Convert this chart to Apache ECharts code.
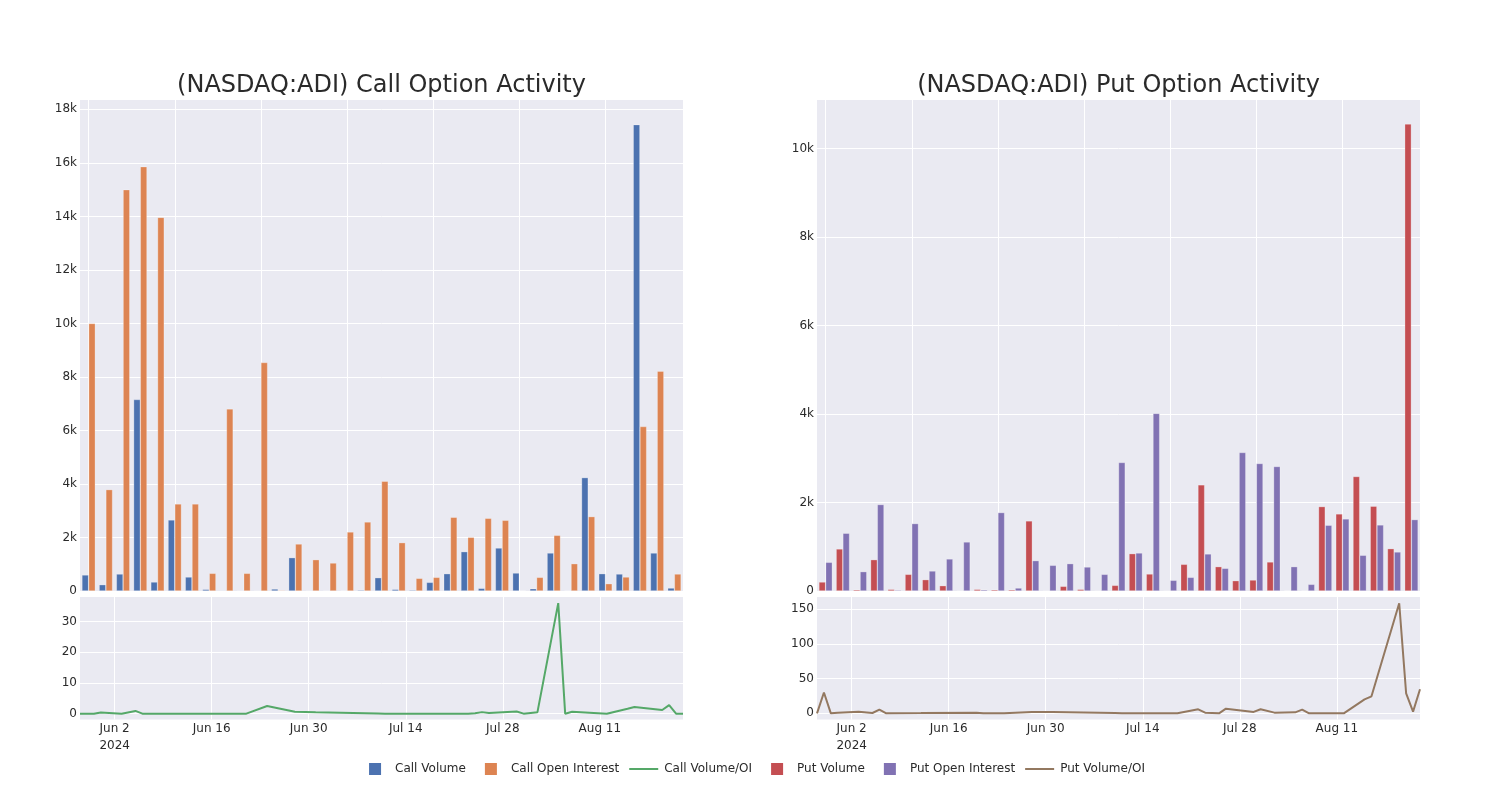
<!DOCTYPE html>
<html>
<head>
<meta charset="utf-8">
<script src="https://cdn.jsdelivr.net/npm/echarts@6/dist/echarts.min.js"></script>
<style>
html,body{margin:0;padding:0;background:#ffffff;}
#chart{width:1500px;height:800px;}
</style>
</head>
<body>
<div id="chart"></div>
<script>
// ---- data ----
const dates = ['2024-05-28','2024-05-29','2024-05-30','2024-05-31','2024-06-03','2024-06-05','2024-06-06','2024-06-07','2024-06-12','2024-06-20','2024-06-21','2024-06-24','2024-06-28','2024-07-01','2024-07-10','2024-07-11','2024-07-19','2024-07-22','2024-07-23','2024-07-24','2024-07-25','2024-07-26','2024-07-30','2024-07-31','2024-08-02','2024-08-05','2024-08-06','2024-08-07','2024-08-12','2024-08-15','2024-08-16','2024-08-20','2024-08-21','2024-08-22','2024-08-23'];
const callVolume = [600,237,636,7157,337,2656,524,62,25,0,0,75,1247,0,5,15,37,499,62,37,324,648,1471,100,1608,673,87,1421,10,4239,648,636,17431,1421,112];
const callOpenInterest = [10000,3790,15000,15860,13965,3254,3254,661,6808,661,8541,30,1758,1172,1047,2207,2581,4102,1808,474,511,2756,2007,2718,2643,19,511,2082,1022,2781,274,524,6147,8217,636];
const callVolumeOI = [0,0,0,0.4,0,0.9,0,0,0,0,0,2.5,0.6,0.45,0.05,0,0,0,0,0.1,0.5,0.2,0.7,0,0.5,36,0,0.6,0,1.6,2.2,1.2,2.8,0,0];
const putVolume = [204,951,30,709,38,377,257,121,0,38,30,30,1585,0,106,38,0,128,845,385,0,604,2400,551,234,249,657,10,8,1909,1743,2589,1917,958,10558];
const putOpenInterest = [649,1306,438,1955,23,1525,453,725,1109,30,1774,68,687,581,619,543,377,2906,860,4015,242,309,838,513,3132,2883,2815,551,151,1487,1630,808,1494,883,1615];
const putVolumeOI = [0,30,0,1,2.4,0.5,5.3,0,0.3,1,0,0,2,2,0.3,0,0,5.8,1,0.5,0,6.7,2,5.8,1,1.4,5.3,0,0,20,24.5,158.7,28.8,2.4,34.6];

// ---- tick labels ----
const dateTicks = ['2024-06-02','2024-06-16','2024-06-30','2024-07-14','2024-07-28','2024-08-11'];
const callBarTicks = [0,2000,4000,6000,8000,10000,12000,14000,16000,18000];
const putBarTicks = [0,2000,4000,6000,8000,10000];
const callRatioTicks = [0,10,20,30];
const putRatioTicks = [0,50,100,150];
const categoryGridTicks = [0,5,10,15,20,25,30];
const titles = ['(NASDAQ:ADI) Call Option Activity','(NASDAQ:ADI) Put Option Activity'];

// ---- helpers ----
const FONT = 'DejaVu Sans';
const TXT = '#2a2a2a';
const BG = '#EAEAF2';
const MONTHS = ['Jan','Feb','Mar','Apr','May','Jun','Jul','Aug','Sep','Oct','Nov','Dec'];
function ts(s){ const p = s.split('-').map(Number); return Date.UTC(p[0], p[1]-1, p[2]); }
const dateTickTs = dateTicks.map(ts);
function kFmt(v){ return v === 0 ? '0' : (v/1000) + 'k'; }
function dateFmt(v){
  const d = new Date(v);
  let s = MONTHS[d.getUTCMonth()] + ' ' + d.getUTCDate();
  if (Math.abs(v - dateTickTs[0]) < 3600000) s += '\n' + d.getUTCFullYear();
  return s;
}
const whiteSplit = {show:true, lineStyle:{color:'#ffffff', width:1}};
const labelStyle = {color:TXT, fontSize:12, fontFamily:FONT};

function catAxis(g){
  return {type:'category', gridIndex:g, data:dates, boundaryGap:true,
    axisLabel:{show:false}, axisTick:{show:false}, axisLine:{show:false}, splitLine:{show:false}};
}
function gridAxis(g){
  return {type:'value', gridIndex:g, min:-0.5, max:dates.length-0.5,
    axisLabel:{show:false, customValues:categoryGridTicks},
    axisTick:{show:false, customValues:categoryGridTicks},
    axisLine:{show:false}, splitLine:whiteSplit};
}
function dateAxis(g){
  return {type:'value', gridIndex:g, min:ts(dates[0]), max:ts(dates[dates.length-1]), scale:true,
    axisLabel:Object.assign({customValues:dateTickTs, formatter:dateFmt, margin:1, lineHeight:17,
      showMinLabel:true, showMaxLabel:true}, labelStyle),
    axisTick:{show:false, customValues:dateTickTs},
    axisLine:{show:false}, splitLine:whiteSplit};
}
function valAxis(g, min, max, ticks, fmt){
  const lab = Object.assign({customValues:ticks, margin:3, padding:[2,0,0,0]}, labelStyle);
  if (fmt) lab.formatter = fmt;
  return {type:'value', gridIndex:g, min:min, max:max,
    axisLabel:lab,
    axisTick:{show:false, customValues:ticks},
    axisLine:{show:false}, splitLine:whiteSplit};
}
function barSeries(name, data, color, xi, yi){
  return {name:name, type:'bar', xAxisIndex:xi, yAxisIndex:yi, data:data,
    barGap:'0%', barCategoryGap:'22%',
    itemStyle:{color:color, borderColor:'rgba(255,255,255,0.45)', borderWidth:0.6},
    emphasis:{disabled:true}};
}
function lineSeries(name, values, color, xi, yi){
  return {name:name, type:'line', xAxisIndex:xi, yAxisIndex:yi,
    data:dates.map((d,i)=>[ts(d), values[i]]),
    showSymbol:false, symbol:'none', lineStyle:{color:color, width:2}, itemStyle:{color:color},
    emphasis:{disabled:true}};
}
const RECT_ICON = 'path://M0,0L0.01,0M14,0H26V12H14ZM35,12L34.99,12';
const LINE_ICON = 'path://M0,0L0.01,0M5,5H34V7H5ZM35,12L34.99,12';

const option = {
  animation:false,
  backgroundColor:'#ffffff',
  textStyle:{fontFamily:FONT},
  title:[
    {text:titles[0], left:381.5, top:74, textAlign:'center', padding:0,
     textStyle:{fontSize:24, fontWeight:'normal', color:TXT, fontFamily:FONT}},
    {text:titles[1], left:1118.5, top:74, textAlign:'center', padding:0,
     textStyle:{fontSize:24, fontWeight:'normal', color:TXT, fontFamily:FONT}}
  ],
  legend:{
    left:'center', top:763, padding:0, itemGap:5, itemWidth:35, itemHeight:12,
    textStyle:{color:TXT, fontSize:12, fontFamily:FONT},
    itemStyle:{borderWidth:0},
    data:[
      {name:'Call Volume', icon:RECT_ICON},
      {name:'Call Open Interest', icon:RECT_ICON},
      {name:'Call Volume/OI', icon:LINE_ICON},
      {name:'Put Volume', icon:RECT_ICON},
      {name:'Put Open Interest', icon:RECT_ICON},
      {name:'Put Volume/OI', icon:LINE_ICON}
    ]
  },
  grid:[
    {left:80, width:603, top:100, height:491, show:true, backgroundColor:BG, borderWidth:0},
    {left:80, width:603, top:597, height:122.5, show:true, backgroundColor:BG, borderWidth:0},
    {left:817, width:603, top:100, height:491, show:true, backgroundColor:BG, borderWidth:0},
    {left:817, width:603, top:597, height:122.5, show:true, backgroundColor:BG, borderWidth:0}
  ],
  xAxis:[catAxis(0), gridAxis(0), dateAxis(1), catAxis(2), gridAxis(2), dateAxis(3)],
  yAxis:[
    valAxis(0, 0, 18350, callBarTicks, kFmt),
    valAxis(1, -1.9, 38, callRatioTicks, null),
    valAxis(2, 0, 11100, putBarTicks, kFmt),
    valAxis(3, -8.9, 167.7, putRatioTicks, null)
  ],
  series:[
    barSeries('Call Volume', callVolume, '#4C72B0', 0, 0),
    barSeries('Call Open Interest', callOpenInterest, '#DD8452', 0, 0),
    lineSeries('Call Volume/OI', callVolumeOI, '#55A868', 2, 1),
    barSeries('Put Volume', putVolume, '#C44E52', 3, 2),
    barSeries('Put Open Interest', putOpenInterest, '#8172B3', 3, 2),
    lineSeries('Put Volume/OI', putVolumeOI, '#937860', 5, 3)
  ]
};
const chart = echarts.init(document.getElementById('chart'), null, {renderer:'canvas'});
chart.setOption(option);
</script>
</body>
</html>
